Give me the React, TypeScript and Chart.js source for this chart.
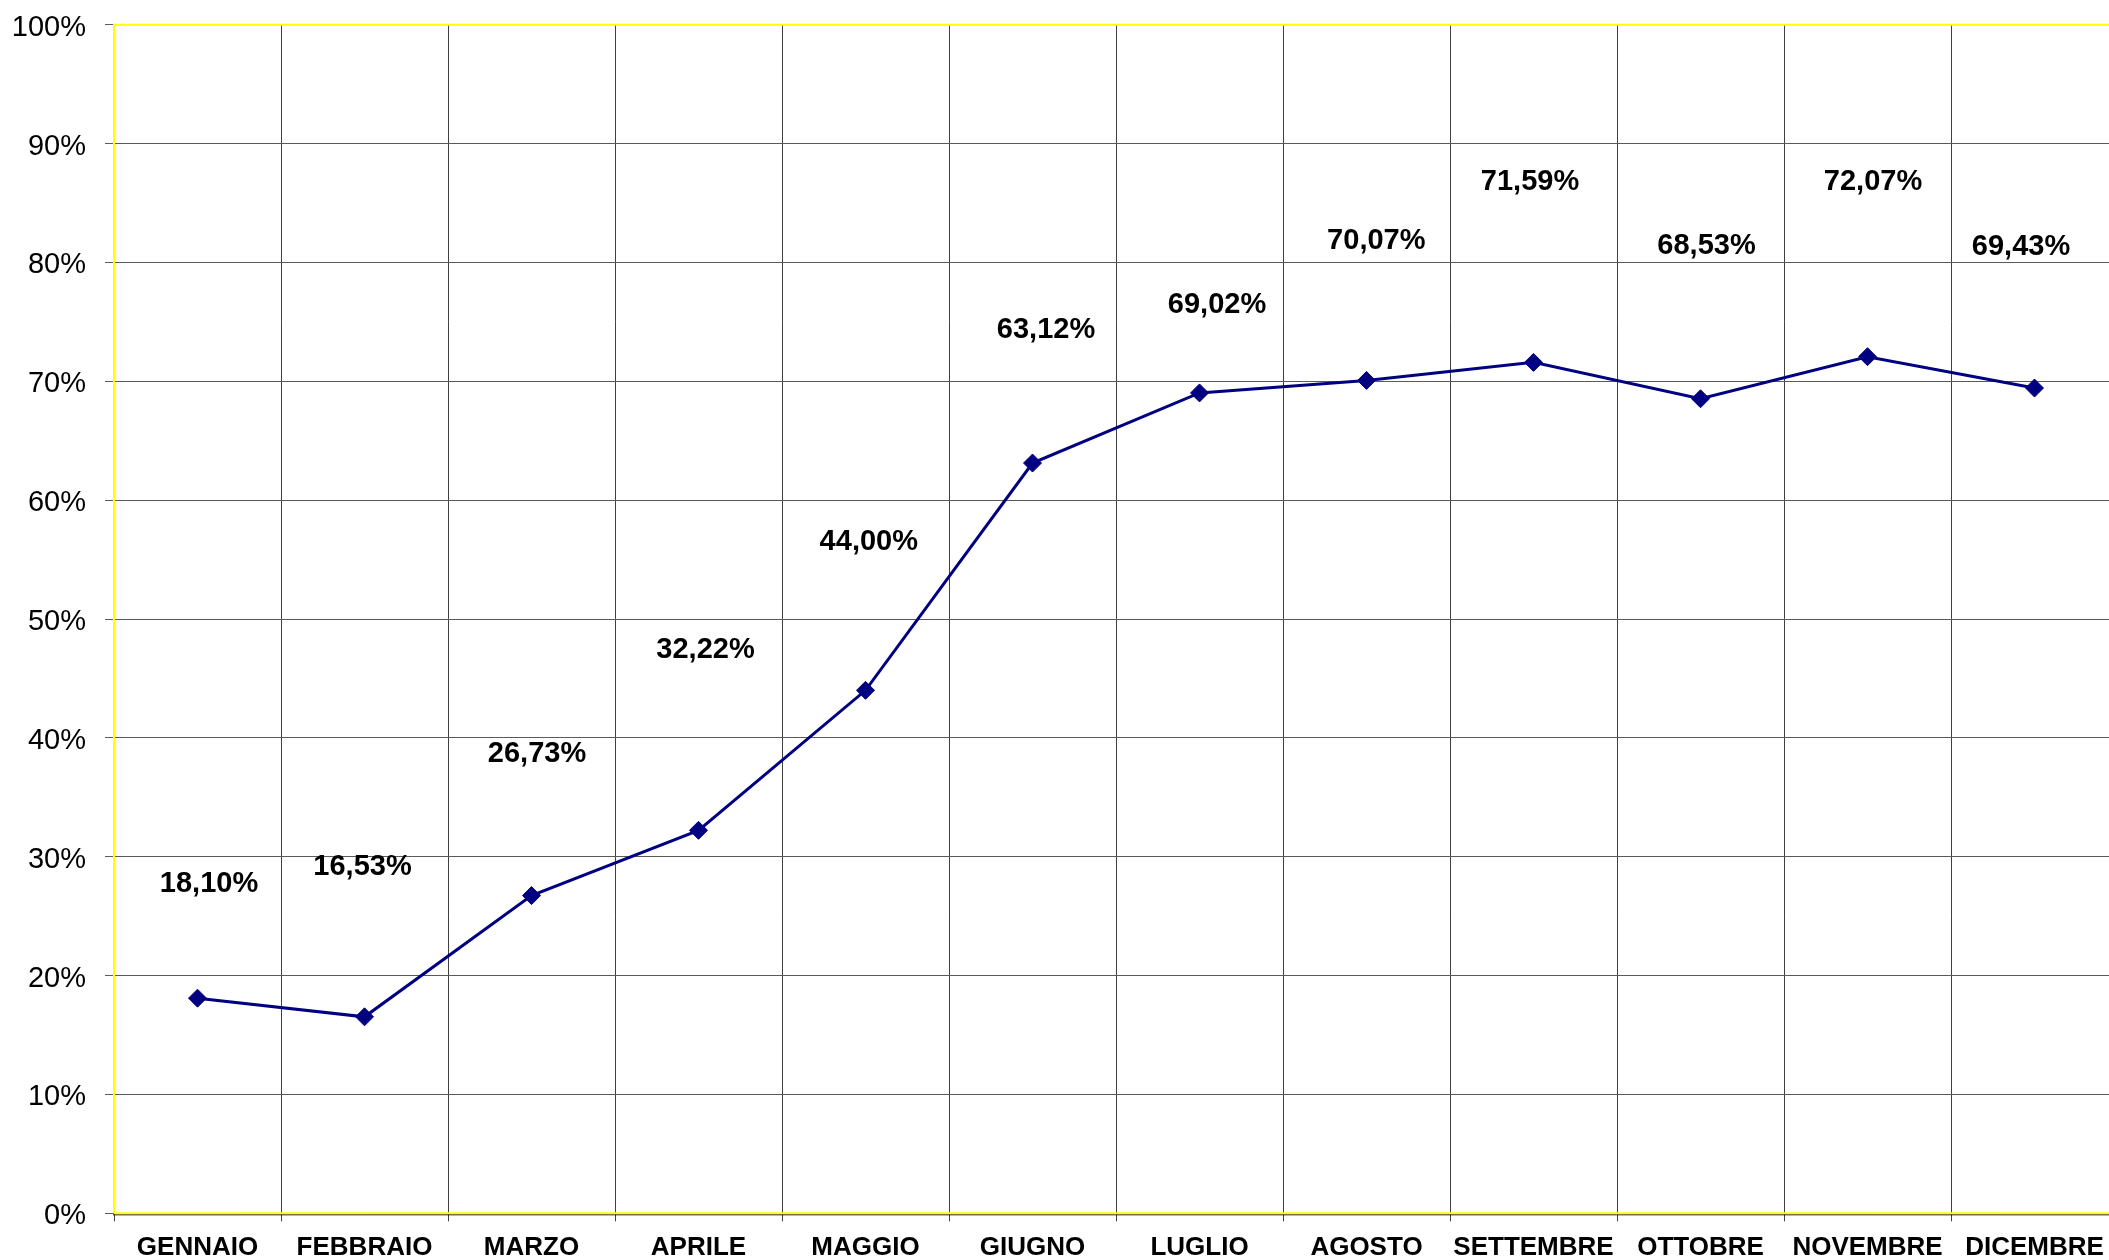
import React, { useEffect, useRef } from "react";
import { Chart, registerables } from "chart.js";

Chart.register(...registerables);

const months = [
  "GENNAIO",
  "FEBBRAIO",
  "MARZO",
  "APRILE",
  "MAGGIO",
  "GIUGNO",
  "LUGLIO",
  "AGOSTO",
  "SETTEMBRE",
  "OTTOBRE",
  "NOVEMBRE",
  "DICEMBRE",
];

const values = [18.1, 16.53, 26.73, 32.22, 44.0, 63.12, 69.02, 70.07, 71.59, 68.53, 72.07, 69.43];

const yMin = 0;
const yMax = 100;
const yStep = 10;

// label offsets (pixels) relative to each point, as placed in the original
const labelDx = [11.5, -2, 5.5, 7, 3.3, 13.5, 17.5, 9.8, -3.5, 6, 5.5, -13.5];
const labelDy = [-117, -152, -144, -183, -151, -135, -90, -142, -183, -155, -177, -143];

const FONT = "'Liberation Sans', Arial, Helvetica, sans-serif";

const fmt = (v: number) => v.toFixed(2).replace(".", ",") + "%";

const CANVAS_W = 2130;
const CANVAS_H = 1260;

export default function App() {
  const ref = useRef<HTMLCanvasElement | null>(null);

  useEffect(() => {
    if (!ref.current) return;

    const frame = {
      id: "frame",
      beforeDatasetsDraw(chart: any) {
        const { ctx, chartArea } = chart;
        const { left, top, right, bottom } = chartArea;
        ctx.save();
        ctx.strokeStyle = "#000000";
        ctx.lineWidth = 1;
        ctx.beginPath();
        ctx.moveTo(left - 1, bottom + 1.5);
        ctx.lineTo(right, bottom + 1.5);
        ctx.stroke();
        ctx.strokeStyle = "#FFFF00";
        ctx.lineWidth = 2;
        ctx.beginPath();
        ctx.moveTo(left, bottom);
        ctx.lineTo(left, top);
        ctx.lineTo(right, top);
        ctx.stroke();
        ctx.beginPath();
        ctx.moveTo(left, bottom);
        ctx.lineTo(right, bottom);
        ctx.stroke();
        ctx.restore();
      },
    };

    const valueLabels = {
      id: "valueLabels",
      afterDatasetsDraw(chart: any) {
        const { ctx } = chart;
        const meta = chart.getDatasetMeta(0);
        ctx.save();
        ctx.font = `bold 29px ${FONT}`;
        ctx.fillStyle = "#000000";
        ctx.textAlign = "center";
        ctx.textBaseline = "alphabetic";
        meta.data.forEach((pt: any, i: number) => {
          const x = pt.x + labelDx[i];
          const y = pt.y + labelDy[i] + 0.358 * 29;
          ctx.fillText(fmt(values[i]), x, y);
        });
        ctx.restore();
      },
    };

    const chart = new Chart(ref.current, {
      type: "line",
      data: {
        labels: months,
        datasets: [
          {
            data: values,
            borderColor: "#000080",
            backgroundColor: "#000080",
            borderWidth: 3,
            pointStyle: "rectRot",
            pointRadius: 9,
            pointBackgroundColor: "#000080",
            pointBorderColor: "#000080",
            pointBorderWidth: 1,
            tension: 0,
            fill: false,
          },
        ],
      },
      options: {
        responsive: false,
        animation: false,
        devicePixelRatio: 1,
        layout: { padding: { top: 24.7, right: CANVAS_W - 2118, left: 0, bottom: 0 } },
        plugins: {
          legend: { display: false },
          tooltip: { enabled: false },
          title: { display: false },
        },
        scales: {
          x: {
            type: "category",
            offset: true,
            border: { display: false },
            grid: {
              offset: true,
              color: "#404040",
              lineWidth: 1,
              drawTicks: true,
              tickLength: 8,
            },
            ticks: {
              color: "#000000",
              font: { family: FONT, size: 26, weight: "bold" },
              padding: 11,
              maxRotation: 0,
              autoSkip: false,
            },
            afterFit(axis: any) {
              axis.height = CANVAS_H - 1213.3;
              axis.paddingLeft = 0;
              axis.paddingRight = 0;
            },
          },
          y: {
            min: yMin,
            max: yMax,
            border: { display: false },
            grid: {
              color: "#5a5a5a",
              lineWidth: 1,
              drawTicks: true,
              tickLength: 9,
            },
            ticks: {
              stepSize: yStep,
              color: "#000000",
              font: { family: FONT, size: 29 },
              padding: 19,
              labelOffset: 3,
              callback: (v: any) => `${v}%`,
            },
            afterFit(axis: any) {
              axis.width = 114;
              axis.paddingTop = 0;
              axis.paddingBottom = 0;
            },
          },
        },
      },
      plugins: [frame, valueLabels],
    });

    return () => chart.destroy();
  }, []);

  return (
    <div
      style={{
        position: "fixed",
        left: 0,
        top: 0,
        width: "100vw",
        height: "100vh",
        overflow: "hidden",
        background: "#ffffff",
      }}
    >
      <canvas ref={ref} width={CANVAS_W} height={CANVAS_H} style={{ display: "block" }} />
    </div>
  );
}
